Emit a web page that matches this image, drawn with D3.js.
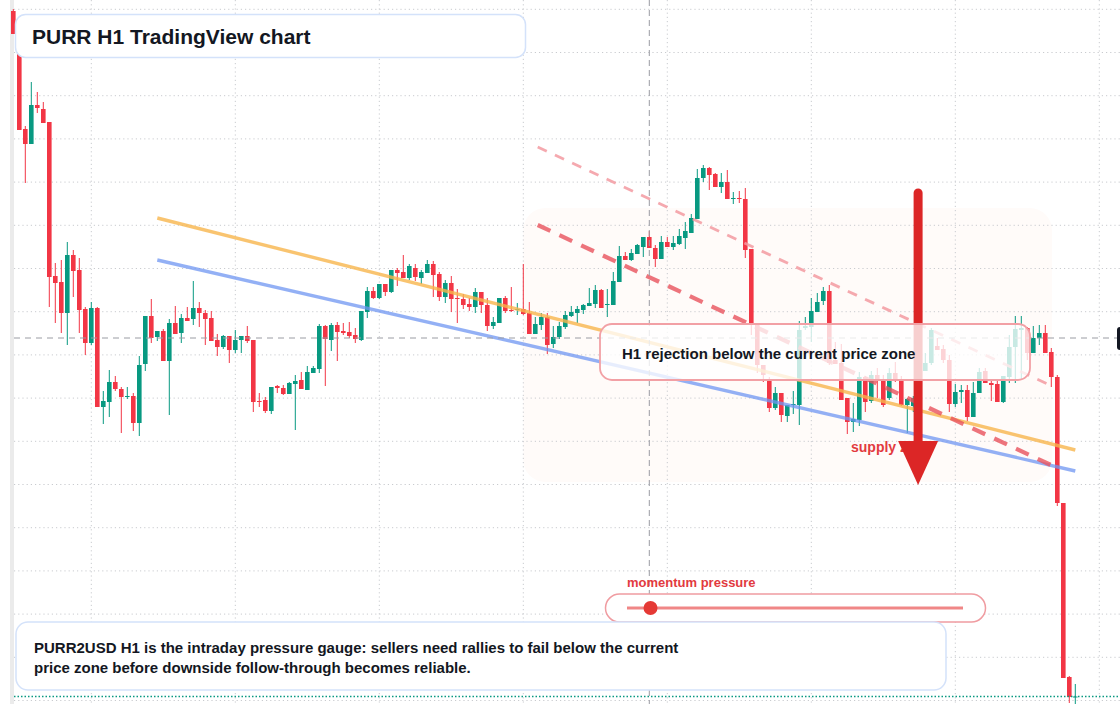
<!DOCTYPE html>
<html>
<head>
<meta charset="utf-8">
<script src="https://cdn.jsdelivr.net/npm/d3@7"></script>
<style>
  html, body { margin: 0; padding: 0; background: #fff; overflow: hidden; }
  svg { display: block; font-family: "Liberation Sans", Arial, sans-serif; }
</style>
</head>
<body>
<svg id="chart"></svg>
<script>
// PURR2USD H1 candles (oldest first)
const openP = [
  .989,.966,.871,.856,.895,.891,.878,.724,.718,.687,
  .745,.730,.691,.657,.692,.593,.598,.618,.611,.603,
  .604,.577,.636,.684,.663,.669,.639,.677,.667,.682,
  .681,.692,.687,.682,.660,.653,.664,.650,.660,.664,
  .660,.599,.600,.589,.614,.612,.606,.616,.620,.610,
  .627,.631,.674,.660,.675,.669,.668,.665,.660,.688,
  .709,.702,.716,.708,.730,.728,.722,.732,.722,.727,
  .736,.726,.703,.717,.702,.701,.696,.693,.708,.695,
  .674,.677,.702,.690,.690,.691,.687,.666,.675,.683,
  .656,.663,.673,.684,.687,.690,.694,.696,.710,.695,
  .695,.718,.744,.740,.746,.753,.763,.752,.741,.758,
  .753,.756,.762,.767,.781,.822,.832,.826,.813,.818,
  .801,.802,.801,.751,.676,.635,.620,.592,.607,.584,
  .595,.595,.672,.673,.688,.699,.709,.640,.637,.602,
  .578,.580,.623,.599,.625,.620,.602,.627,.620,.595,
  .594,.602,.629,.637,.654,.651,.640,.596,.608,.610,
  .583,.607,.629,.617,.616,.598,.623,.653,.670,.672,
  .647,.662,.667,.648,.623,.497,.323,.3025
];
const highP = [
  .991,.967,.874,.918,.908,.898,.878,.737,.740,.758,
  .750,.742,.693,.698,.693,.609,.630,.624,.613,.613,
  .607,.644,.684,.701,.669,.671,.681,.694,.686,.693,
  .719,.698,.690,.689,.666,.665,.664,.670,.664,.674,
  .660,.607,.603,.613,.615,.615,.618,.625,.628,.634,
  .634,.676,.675,.677,.678,.677,.678,.672,.689,.713,
  .713,.716,.716,.730,.732,.745,.736,.736,.730,.740,
  .739,.728,.720,.724,.711,.706,.702,.712,.708,.702,
  .683,.702,.704,.713,.697,.736,.698,.683,.687,.687,
  .674,.678,.689,.694,.694,.696,.712,.715,.711,.711,
  .728,.754,.748,.751,.756,.763,.769,.755,.764,.763,
  .764,.771,.778,.786,.831,.835,.833,.827,.827,.830,
  .808,.809,.812,.751,.676,.635,.623,.613,.607,.595,
  .609,.679,.683,.702,.707,.713,.715,.658,.656,.602,
  .597,.628,.624,.629,.632,.625,.632,.638,.624,.602,
  .604,.632,.647,.672,.662,.655,.645,.616,.615,.615,
  .618,.632,.632,.621,.619,.624,.665,.684,.684,.673,
  .674,.675,.675,.652,.625,.497,.324,.316
];
const lowP = [
  .966,.870,.817,.856,.887,.877,.693,.677,.667,.655,
  .703,.667,.645,.655,.593,.576,.583,.609,.567,.601,
  .569,.564,.629,.657,.659,.639,.585,.666,.657,.679,
  .675,.673,.655,.659,.644,.651,.637,.647,.647,.657,
  .588,.593,.587,.586,.607,.605,.606,.570,.611,.610,
  .627,.627,.614,.649,.639,.665,.662,.657,.659,.682,
  .701,.701,.704,.707,.714,.722,.720,.719,.716,.727,
  .703,.699,.697,.688,.677,.691,.689,.687,.687,.669,
  .671,.677,.687,.688,.685,.685,.666,.666,.670,.646,
  .652,.661,.671,.683,.677,.686,.694,.692,.692,.683,
  .695,.718,.740,.739,.746,.743,.752,.733,.741,.753,
  .750,.755,.751,.767,.781,.818,.810,.813,.807,.801,
  .796,.797,.742,.665,.627,.618,.588,.590,.578,.578,
  .586,.575,.670,.658,.688,.695,.635,.636,.600,.566,
  .568,.574,.588,.597,.602,.593,.600,.618,.594,.567,
  .588,.598,.629,.635,.650,.637,.588,.593,.597,.579,
  .583,.607,.617,.599,.598,.597,.617,.617,.620,.640,
  .647,.655,.647,.613,.494,.322,.297,.296
];
const closeP = [
  .966,.870,.856,.895,.892,.877,.723,.717,.687,.745,
  .729,.690,.657,.692,.593,.599,.618,.611,.603,.604,
  .577,.635,.684,.662,.669,.639,.677,.666,.682,.679,
  .692,.687,.681,.659,.653,.664,.650,.660,.664,.659,
  .598,.598,.589,.613,.612,.606,.617,.619,.611,.628,
  .632,.674,.661,.675,.668,.667,.664,.661,.689,.709,
  .702,.716,.708,.730,.727,.722,.734,.723,.728,.736,
  .725,.703,.717,.701,.701,.695,.693,.708,.695,.674,
  .678,.702,.689,.689,.691,.686,.666,.676,.683,.655,
  .663,.674,.685,.688,.691,.695,.697,.710,.692,.696,
  .719,.744,.740,.747,.755,.763,.752,.741,.758,.753,
  .757,.764,.769,.782,.822,.832,.825,.813,.818,.801,
  .802,.801,.750,.676,.635,.625,.592,.607,.585,.595,
  .596,.670,.674,.689,.698,.709,.637,.636,.600,.578,
  .581,.623,.598,.625,.620,.595,.627,.620,.595,.601,
  .602,.629,.637,.670,.650,.640,.596,.608,.610,.583,
  .607,.628,.617,.615,.598,.624,.653,.671,.672,.647,
  .662,.667,.647,.623,.497,.322,.303,.3035
];

// horizontal price grid and daily time grid (candle index of each midnight)
const priceTicks = [.9907,.9475,.9043,.8611,.8179,.7747,.7315,.6883,.6451,.6019,.5587,.5155,.4723,.4291,.3859,.3427,.2995];
const dayCandles = [13, 37, 61, 85, 109, 133, 157, 181];

// drawn levels: [candle index, price] pairs
const resistanceLine = [[24, .782], [177, .550]];
const supportLine = [[24, .740], [177, .529]];
const upperChannel = [[87.4, .853], [173.1, .614]];
const lowerChannel = [[87.4, .775], [173.3, .534]];
const supplyZone = { from: 85, to: 173.1, top: .792, bottom: .518 };
const arrowLevels = { at: 150.8, start: .807, head: .559, tip: .515 };
const crosshair = { candle: 106, price: .662 };
const momentumValue = 0.07;

const width = 1120;
const height = 704;
const up = "#089981";
const down = "#f23645";

const svg = d3.select("#chart")
  .attr("width", width)
  .attr("height", height);

const x = d3.scaleLinear().domain([0, 177]).range([13.3, 1075.3]);
const y = d3.scaleLinear().domain([1.0, 0.28]).range([0, 720]);

svg.append("rect").attr("width", width).attr("height", height).attr("fill", "#fff");

// supply zone backdrop
svg.append("rect")
  .attr("x", x(supplyZone.from)).attr("y", y(supplyZone.top))
  .attr("width", x(supplyZone.to) - x(supplyZone.from))
  .attr("height", y(supplyZone.bottom) - y(supplyZone.top))
  .attr("rx", 22)
  .attr("fill", "#fffbf9");

// grid
svg.append("g").selectAll("line")
  .data(priceTicks)
  .join("line")
  .attr("x1", 14).attr("x2", width)
  .attr("y1", d => y(d)).attr("y2", d => y(d))
  .attr("stroke", "#c9cbcf").attr("stroke-width", 1)
  .attr("stroke-dasharray", "1.2,3");

svg.append("g").selectAll("line")
  .data(dayCandles)
  .join("line")
  .attr("x1", d => x(d)).attr("x2", d => x(d))
  .attr("y1", 0).attr("y2", height)
  .attr("stroke", "#c9cbcf").attr("stroke-width", 1)
  .attr("stroke-dasharray", "1.2,3");

svg.append("rect")
  .attr("x", 10).attr("y", 0).attr("width", 4).attr("height", height)
  .attr("fill", "#ebebeb");

// candles
const candles = d3.range(openP.length).map(i => ({
  i, o: openP[i], h: highP[i], l: lowP[i], c: closeP[i]
}));
const bodyW = 4.6;

const cg = svg.append("g").selectAll("g")
  .data(candles)
  .join("g")
  .attr("fill", d => d.c >= d.o ? up : down)
  .attr("stroke", d => d.c >= d.o ? up : down);

cg.append("line")
  .attr("x1", d => x(d.i)).attr("x2", d => x(d.i))
  .attr("y1", d => y(d.h)).attr("y2", d => y(d.l))
  .attr("stroke-width", 1);

cg.append("rect")
  .attr("stroke", "none")
  .attr("x", d => x(d.i) - bodyW / 2)
  .attr("width", bodyW)
  .attr("y", d => y(Math.max(d.o, d.c)))
  .attr("height", d => Math.max(1, Math.abs(y(d.o) - y(d.c))));

// last price line
svg.append("line")
  .attr("x1", 14).attr("x2", width)
  .attr("y1", y(closeP[closeP.length - 1])).attr("y2", y(closeP[closeP.length - 1]))
  .attr("stroke", up).attr("stroke-width", 1.3)
  .attr("stroke-dasharray", "1.5,2");

// trend lines
const seg = d3.line().x(d => x(d[0])).y(d => y(d[1]));

svg.append("path").attr("d", seg(resistanceLine))
  .attr("fill", "none").attr("stroke", "#f8b54c").attr("stroke-opacity", 0.8)
  .attr("stroke-width", 3.4);

svg.append("path").attr("d", seg(supportLine))
  .attr("fill", "none").attr("stroke", "#6f96f2").attr("stroke-opacity", 0.75)
  .attr("stroke-width", 3.4);

svg.append("path").attr("d", seg(upperChannel))
  .attr("fill", "none").attr("stroke", "#f39aa1").attr("stroke-opacity", 0.85)
  .attr("stroke-width", 2.8).attr("stroke-dasharray", "10,9");

svg.append("path").attr("d", seg(lowerChannel))
  .attr("fill", "none").attr("stroke", "#e8535d").attr("stroke-opacity", 0.8)
  .attr("stroke-width", 4.2).attr("stroke-dasharray", "14,10");

// crosshair
svg.append("line")
  .attr("x1", x(crosshair.candle)).attr("x2", x(crosshair.candle))
  .attr("y1", 0).attr("y2", height)
  .attr("stroke", "#9a9ca3").attr("stroke-width", 1).attr("stroke-dasharray", "6,4");

svg.append("line")
  .attr("x1", 14).attr("x2", 1117)
  .attr("y1", y(crosshair.price)).attr("y2", y(crosshair.price))
  .attr("stroke", "#9a9ca3").attr("stroke-width", 1).attr("stroke-dasharray", "6,5");

svg.append("rect")
  .attr("x", 1117).attr("y", y(crosshair.price) - 11)
  .attr("width", 60).attr("height", 23).attr("rx", 3)
  .attr("fill", "#131722");

// supply label + arrow
svg.append("text")
  .attr("x", 851).attr("y", 452)
  .attr("font-size", 14).attr("font-weight", "bold")
  .attr("fill", "#e23a40")
  .text("supply zone");

const ax = x(arrowLevels.at);
svg.append("line")
  .attr("x1", ax).attr("x2", ax)
  .attr("y1", y(arrowLevels.start)).attr("y2", y(arrowLevels.head) + 3)
  .attr("stroke", "#dc2626").attr("stroke-width", 9).attr("stroke-linecap", "round");

svg.append("path")
  .attr("d", `M${ax - 20},${y(arrowLevels.head)} L${ax + 20},${y(arrowLevels.head)} L${ax},${y(arrowLevels.tip)} Z`)
  .attr("fill", "#dc2626");

// rejection note
svg.append("rect")
  .attr("x", 600).attr("y", 324).attr("width", 430).attr("height", 56).attr("rx", 12)
  .attr("fill", "#fff").attr("fill-opacity", 0.78)
  .attr("stroke", "#f2a0a5").attr("stroke-width", 1.8);

svg.append("text")
  .attr("x", 622).attr("y", 359)
  .attr("font-size", 15).attr("font-weight", "bold").attr("fill", "#131722")
  .text("H1 rejection below the current price zone");

// title
svg.append("rect")
  .attr("x", 15.5).attr("y", 14.5).attr("width", 510).attr("height", 43).attr("rx", 10)
  .attr("fill", "#fff").attr("stroke", "#d4e2fa").attr("stroke-width", 1.5);

svg.append("text")
  .attr("x", 32).attr("y", 43.5)
  .attr("font-size", 21).attr("font-weight", "bold").attr("fill", "#131722")
  .text("PURR H1 TradingView chart");

// momentum gauge
const gauge = d3.scaleLinear().domain([0, 1]).range([627, 963]);

svg.append("text")
  .attr("x", 627).attr("y", 587)
  .attr("font-size", 13).attr("font-weight", "bold").attr("fill", "#e23a40")
  .text("momentum pressure");

svg.append("rect")
  .attr("x", 605.5).attr("y", 594).attr("width", 380).attr("height", 28).attr("rx", 14)
  .attr("fill", "#fff").attr("stroke", "#f09ca1").attr("stroke-width", 1.5);

svg.append("line")
  .attr("x1", gauge(0)).attr("x2", gauge(1))
  .attr("y1", 608).attr("y2", 608)
  .attr("stroke", "#f08787").attr("stroke-width", 3);

svg.append("circle")
  .attr("cx", gauge(momentumValue)).attr("cy", 608).attr("r", 7)
  .attr("fill", "#e53935");

// caption
svg.append("rect")
  .attr("x", 16).attr("y", 622).attr("width", 930).attr("height", 68).attr("rx", 12)
  .attr("fill", "#fff").attr("stroke", "#d4e2fa").attr("stroke-width", 1.5);

const caption = svg.append("text")
  .attr("font-size", 15).attr("font-weight", "bold").attr("fill", "#131722");
caption.append("tspan").attr("x", 34).attr("y", 653)
  .text("PURR2USD H1 is the intraday pressure gauge: sellers need rallies to fail below the current");
caption.append("tspan").attr("x", 34).attr("y", 673)
  .text("price zone before downside follow-through becomes reliable.");
</script>
</body>
</html>
